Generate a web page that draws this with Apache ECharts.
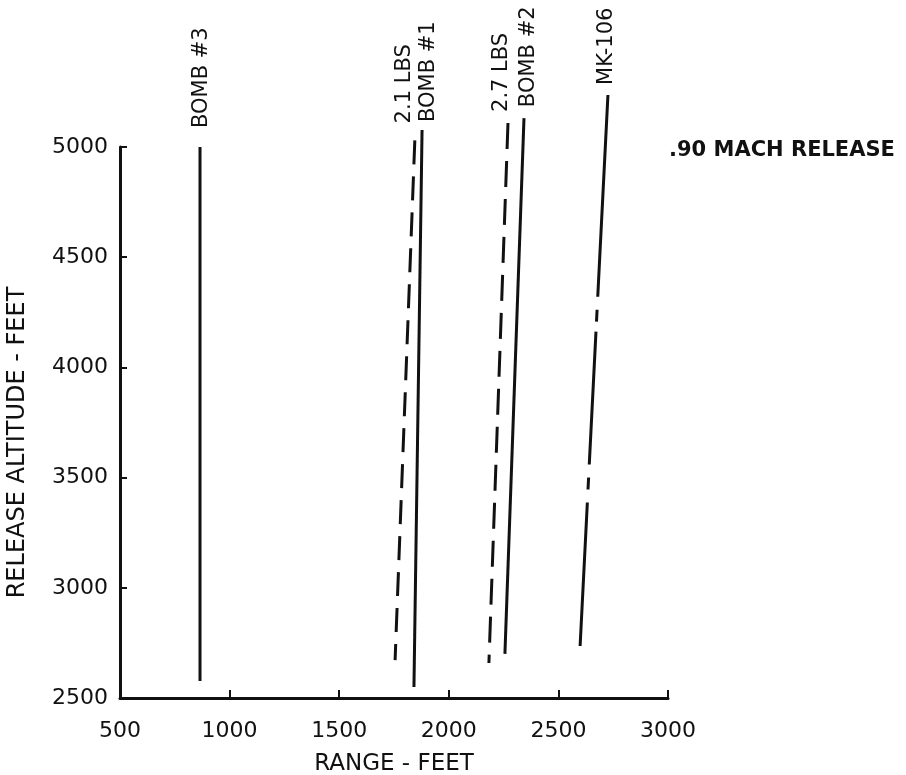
<!DOCTYPE html>
<html>
<head>
<meta charset="utf-8">
<script src="https://cdn.jsdelivr.net/npm/echarts@6/dist/echarts.min.js"></script>
<style>
  html, body { margin: 0; padding: 0; background: #fff; }
  #chart { width: 906px; height: 775px; }
</style>
</head>
<body>
<div id="chart"></div>
<script>
// curves of release altitude vs range, one straight line each
const seriesNames = ['BOMB #3', '2.1 LBS', 'BOMB #1', '2.7 LBS', 'BOMB #2', 'MK-106'];
const rangeTop = [865, 1845, 1878, 2270, 2343, 2726];
const altTop = [5000, 5030, 5077, 5109, 5131, 5236];
const rangeBottom = [865, 1755, 1841, 2183, 2256, 2599];
const altBottom = [2577, 2672, 2550, 2659, 2700, 2736];
const xTicks = [500, 1000, 1500, 2000, 2500, 3000];
const yTicks = [2500, 3000, 3500, 4000, 4500, 5000];

// drawing style per line
const dashStyle = ['solid', [24, 12], 'solid', [26, 12], 'solid', [202, 13, 12, 10, 133, 13, 12, 13, 200]];
// screen shift of each rotated label from the top of its line: [dx, dy]
const labelShift = [[2, -19], [-10, -17], [6, -8], [-6, -11], [5, -11], [-1, -10]];

const font = 'DejaVu Sans';
const ink = '#111';

const myChart = echarts.init(document.getElementById('chart'));

const series = seriesNames.map(function (name, i) {
    const s = labelShift[i];
    return {
        name: name,
        type: 'line',
        clip: false,
        symbol: 'circle',
        symbolSize: 0,
        showSymbol: true,
        animation: false,
        silent: true,
        lineStyle: { color: ink, width: 3, type: dashStyle[i] },
        data: [
            {
                value: [rangeTop[i], altTop[i]],
                label: {
                    show: true,
                    formatter: name,
                    position: 'top',
                    distance: 0,
                    rotate: 90,
                    align: 'left',
                    verticalAlign: 'middle',
                    // offset is in the rotated frame
                    offset: [-s[1], s[0]],
                    color: ink,
                    fontFamily: font,
                    fontSize: 21
                }
            },
            [rangeBottom[i], altBottom[i]]
        ]
    };
});

const option = {
    backgroundColor: '#fff',
    animation: false,
    title: {
        text: '.90 MACH RELEASE',
        left: 664,
        top: 135,
        textStyle: { color: ink, fontFamily: font, fontSize: 21, fontWeight: 'bold' }
    },
    grid: { left: 120, right: 238, top: 147, bottom: 77, outerBoundsMode: 'none' },
    xAxis: {
        type: 'value',
        min: xTicks[0],
        max: xTicks[xTicks.length - 1],
        interval: 500,
        name: 'RANGE - FEET',
        nameLocation: 'middle',
        nameGap: 55,
        nameTextStyle: { color: ink, fontFamily: font, fontSize: 23 },
        axisLine: { lineStyle: { color: ink, width: 3 } },
        axisTick: { inside: true, length: 8, lineStyle: { color: ink, width: 2 } },
        axisLabel: { color: ink, fontFamily: font, fontSize: 22, margin: 22, formatter: function (v) { return String(v); } },
        splitLine: { show: false }
    },
    yAxis: {
        type: 'value',
        min: yTicks[0],
        max: yTicks[yTicks.length - 1],
        interval: 500,
        name: 'RELEASE ALTITUDE - FEET',
        nameLocation: 'middle',
        nameGap: 90,
        nameTextStyle: { color: ink, fontFamily: font, fontSize: 24, padding: [0, 40, 0, 0] },
        axisLine: { show: true, lineStyle: { color: ink, width: 3 } },
        axisTick: { inside: true, length: 7, lineStyle: { color: ink, width: 2 } },
        axisLabel: { color: ink, fontFamily: font, fontSize: 22, margin: 12, formatter: function (v) { return String(v); } },
        splitLine: { show: false }
    },
    series: series
};

myChart.setOption(option);
</script>
</body>
</html>
